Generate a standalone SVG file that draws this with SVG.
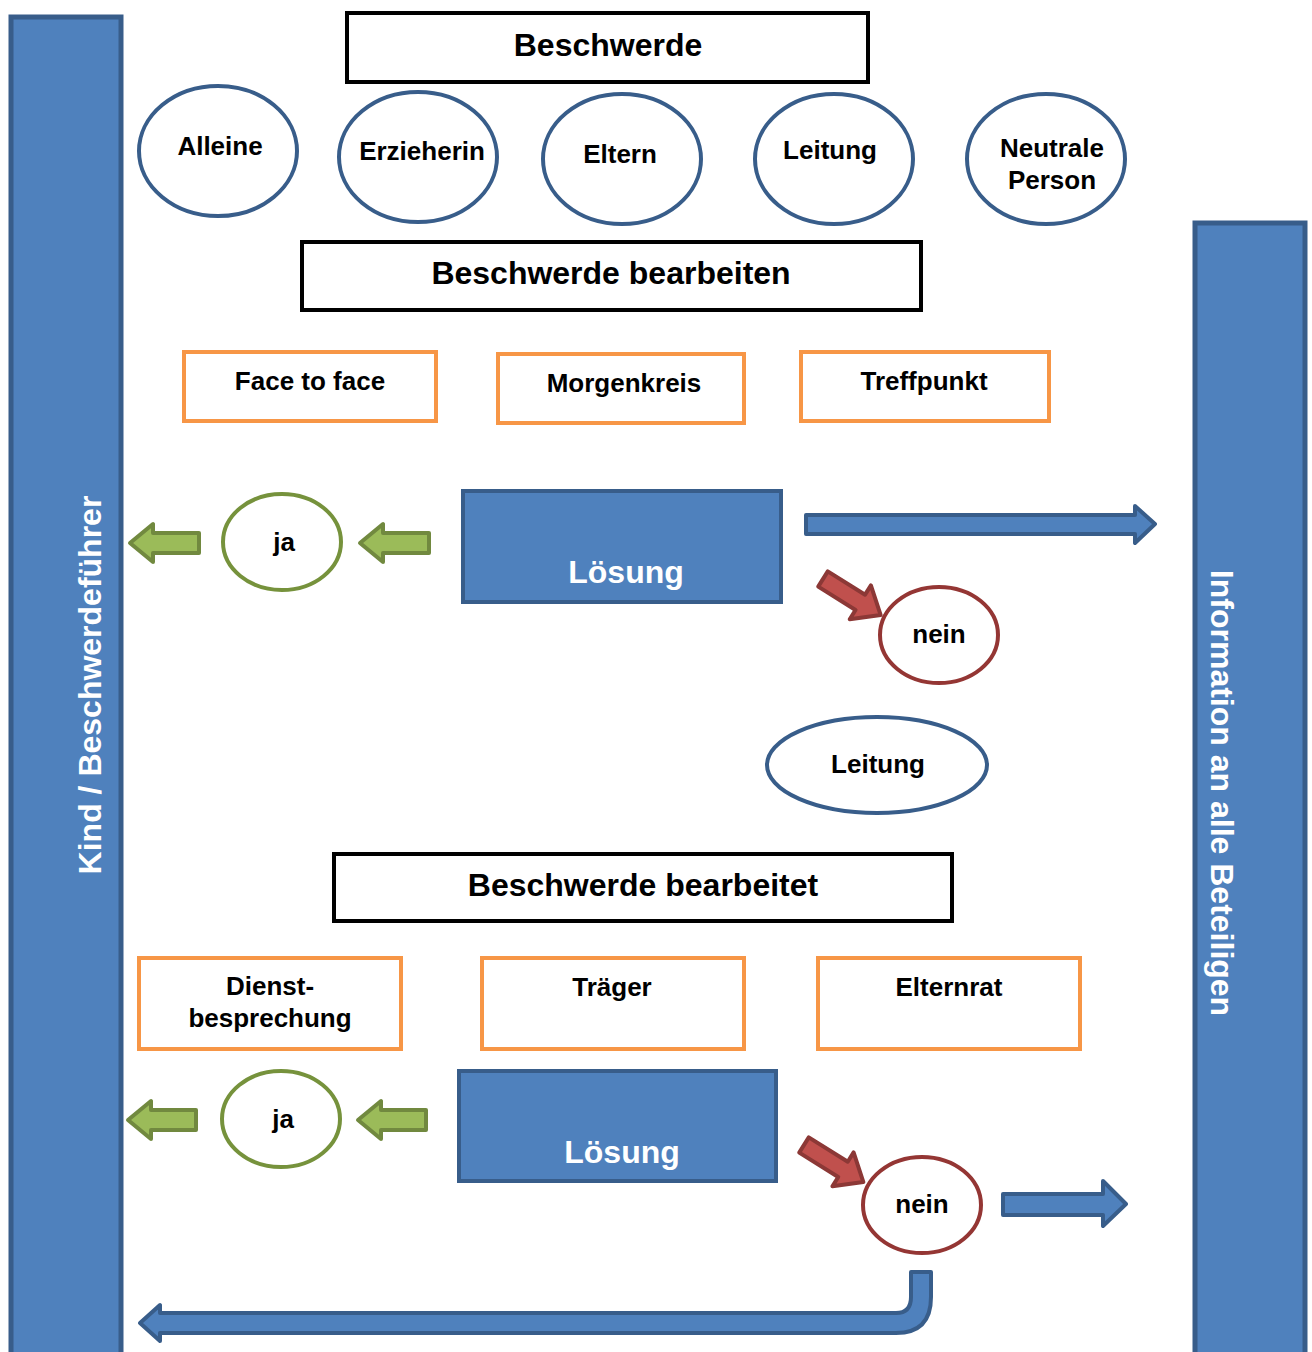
<svg xmlns="http://www.w3.org/2000/svg" width="1312" height="1352" viewBox="0 0 1312 1352">
<style>
text{font-family:"Liberation Sans",Arial,sans-serif;font-weight:bold;text-anchor:middle;fill:#000}
.t26{font-size:26px}
.t31{font-size:32px}
.wt{fill:#fff}
.bar{fill:#4f81bd;stroke:#385d8a;stroke-width:5}
.blk{fill:#fff;stroke:#000;stroke-width:4}
.org{fill:#fff;stroke:#f79646;stroke-width:4}
.bel{fill:#fff;stroke:#385d8a;stroke-width:4}
.gel{fill:#fff;stroke:#76923c;stroke-width:4}
.rel{fill:#fff;stroke:#943634;stroke-width:4}
.sol{fill:#4f81bd;stroke:#385d8a;stroke-width:4}
.garr{fill:#9bbb59;stroke:#71893f;stroke-width:4;stroke-linejoin:round}
.rarr{fill:#c0504d;stroke:#8c3836;stroke-width:4;stroke-linejoin:round}
.barr{fill:#4f81bd;stroke:#385d8a;stroke-width:4;stroke-linejoin:round}
</style>
<rect width="1312" height="1352" fill="#fff"/>
<g id="bar-left">
<rect class="bar" x="11" y="17" width="110" height="1345"/>
<text class="t31 wt" transform="translate(101,685) rotate(-90)" x="0" y="0">Kind / Beschwerdeführer</text>
</g>
<g id="bar-right">
<rect class="bar" x="1195" y="223" width="110" height="1140"/>
<text class="t31 wt" transform="translate(1211,793) rotate(90)" x="0" y="0">Information an alle Beteiligen</text>
</g>
<g id="beschwerde"><rect class="blk" x="347" y="13" width="521" height="69"/><text class="t31" x="608" y="56">Beschwerde</text></g>
<g id="alleine"><ellipse class="bel" cx="218" cy="151" rx="79" ry="65"/><text class="t26" x="220" y="155">Alleine</text></g>
<g id="erzieherin"><ellipse class="bel" cx="418" cy="157" rx="79" ry="65"/><text class="t26" x="422" y="160">Erzieherin</text></g>
<g id="eltern"><ellipse class="bel" cx="622" cy="159" rx="79" ry="65"/><text class="t26" x="620" y="163">Eltern</text></g>
<g id="leitung1"><ellipse class="bel" cx="834" cy="159" rx="79" ry="65"/><text class="t26" x="830" y="159">Leitung</text></g>
<g id="neutrale"><ellipse class="bel" cx="1046" cy="159" rx="79" ry="65"/><text class="t26" x="1052" y="157">Neutrale</text><text class="t26" x="1052" y="189">Person</text></g>
<g id="bearbeiten"><rect class="blk" x="302" y="242" width="619" height="68"/><text class="t31" x="611" y="284">Beschwerde bearbeiten</text></g>
<g id="face"><rect class="org" x="184" y="352" width="252" height="69"/><text class="t26" x="310" y="390">Face to face</text></g>
<g id="morgenkreis"><rect class="org" x="498" y="354" width="246" height="69"/><text class="t26" x="624" y="392">Morgenkreis</text></g>
<g id="treffpunkt"><rect class="org" x="801" y="352" width="248" height="69"/><text class="t26" x="924" y="390">Treffpunkt</text></g>
<g id="ja1"><ellipse class="gel" cx="282" cy="542" rx="59" ry="48"/><text class="t26" x="284" y="551">ja</text></g>
<g id="loesung1"><rect class="sol" x="463" y="491" width="318" height="111"/><text class="t31 wt" x="626" y="583">Lösung</text></g>
<g id="nein1"><ellipse class="rel" cx="939" cy="635" rx="59" ry="48"/><text class="t26" x="939" y="643">nein</text></g>
<g id="leitung2"><ellipse class="bel" cx="877" cy="765" rx="110" ry="48"/><text class="t26" x="878" y="773">Leitung</text></g>
<g id="bearbeitet"><rect class="blk" x="334" y="854" width="618" height="67"/><text class="t31" x="643" y="896">Beschwerde bearbeitet</text></g>
<g id="dienst"><rect class="org" x="139" y="958" width="262" height="91"/><text class="t26" x="270" y="995">Dienst-</text><text class="t26" x="270" y="1027">besprechung</text></g>
<g id="traeger"><rect class="org" x="482" y="958" width="262" height="91"/><text class="t26" x="612" y="996">Träger</text></g>
<g id="elternrat"><rect class="org" x="818" y="958" width="262" height="91"/><text class="t26" x="949" y="996">Elternrat</text></g>
<g id="ja2"><ellipse class="gel" cx="281" cy="1119" rx="59" ry="48"/><text class="t26" x="283" y="1128">ja</text></g>
<g id="loesung2"><rect class="sol" x="459" y="1071" width="317" height="110"/><text class="t31 wt" x="622" y="1163">Lösung</text></g>
<g id="nein2"><ellipse class="rel" cx="922" cy="1205" rx="59" ry="48"/><text class="t26" x="922" y="1213">nein</text></g>
<g id="connectors">
<path class="garr" d="M199 533 V553 H153 V562 L130 543 L153 524 V533 Z"/>
<path class="garr" d="M429 533 V553 H383 V562 L360 543 L383 524 V533 Z"/>
<path class="garr" d="M196 1110 V1130 H151 V1139 L128 1120 L151 1101 V1110 Z"/>
<path class="garr" d="M426 1110 V1130 H381 V1139 L358 1120 L381 1101 V1110 Z"/>
<path class="barr" d="M806 515 H1135 V506 L1155 524 L1135 543 V534 H806 Z"/>
<path class="barr" d="M1003 1194 H1103 V1181 L1126 1204 L1103 1226 V1215 H1003 Z"/>
<path class="rarr" transform="translate(823,579) rotate(32)" d="M0 -9 H44 V-20 L68 0 L44 20 V9 H0 Z"/>
<path class="rarr" transform="translate(804,1145) rotate(32)" d="M0 -9 H46 V-20 L70 0 L46 20 V9 H0 Z"/>
<path class="barr" d="M911 1272 H931 V1297 Q931 1333 896 1333 H160 V1341 L140 1323 L160 1305 V1313 H896 Q911 1313 911 1297 Z"/>
</g>
</svg>
